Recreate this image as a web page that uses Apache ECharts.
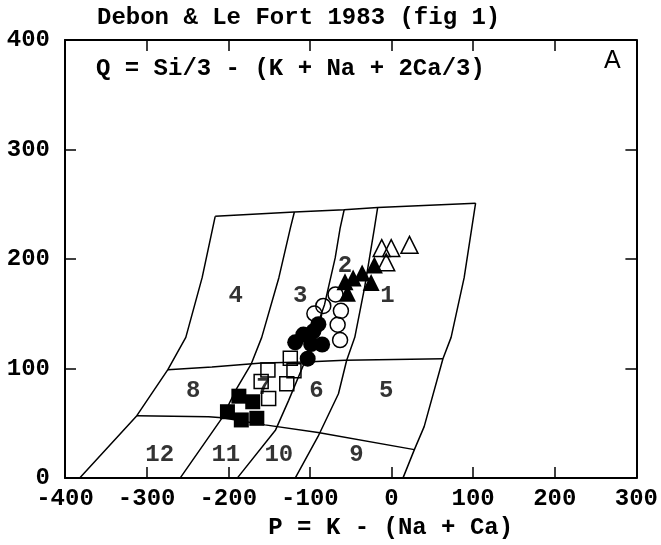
<!DOCTYPE html>
<html>
<head>
<meta charset="utf-8">
<script src="https://cdn.jsdelivr.net/npm/echarts@6/dist/echarts.min.js"></script>
<style>
  html, body { margin: 0; padding: 0; background: #fff; }
  #chart { width: 661px; height: 545px; }
</style>
</head>
<body>
<div id="chart"></div>
<script>
// P-Q diagram, Debon & Le Fort 1983
const xTicks = [-400, 300, 100];
const yTicks = [0, 400, 100];

// field boundaries, [P, Q]
const topEdge = [[-216, 239], [-119, 243], [-58, 245], [-17, 247], [103, 251]];
const leftEdge = [[-216, 239], [-232, 183], [-252, 128.5], [-274, 99], [-312, 57], [-382, 0]];
const rightEdge = [[103, 251], [89, 183], [73, 128.5], [63, 109], [40, 47], [28, 26], [14, 0]];
const div43 = [[-119, 243], [-124, 228], [-138, 183], [-159, 128.5], [-172, 104], [-191, 80], [-207.5, 55], [-259, 0]];
const div32 = [[-58, 245], [-63, 228], [-69, 201], [-82, 158.6], [-96, 128.5], [-108, 103], [-126, 71], [-142, 44], [-189, 0]];
const div21 = [[-17, 247], [-21, 228], [-33, 174], [-45, 128.5], [-55, 107.4], [-65, 77], [-90, 38], [-118, 0]];
const midEdge = [[-274, 99], [-220, 101.5], [-159, 105], [-106, 106], [-57, 107.5], [63, 109]];
const lowEdge = [[-312, 57], [-224, 56], [-207.5, 55], [-155, 48.6], [-90, 41.6], [28, 26]];

const fieldNames = ['1', '2', '3', '4', '5', '6', '7', '8', '9', '10', '11', '12'];
const fieldPos = [[-5, 166], [-57, 194], [-112, 166], [-191, 166], [-6.5, 80], [-92, 80], [-157, 82], [-243, 80],
  [-43, 21], [-138, 21], [-203, 21], [-284, 21]];

// samples
const openTriangles = [[-12, 210], [-0.4, 210], [22, 213], [-6.5, 197]];
const filledTriangles = [[-21, 194.6], [-36, 187.3], [-47, 182.8], [-57, 179.2], [-25, 178.7], [-54, 168.8]];
const openCircles = [[-68.6, 167.7], [-83.6, 157.2], [-94.5, 150.2], [-62, 152.7], [-66, 140], [-63, 126]];
const filledCircles = [[-89.6, 140.5], [-108, 131], [-118, 124], [-98.5, 122.4], [-85, 122], [-102.7, 109], [-95.7, 134]];
const openSquares = [[-124, 109.5], [-151.4, 98.6], [-119.5, 98], [-159.7, 88.1], [-128.3, 86.2], [-150.5, 72.7]];
const filledSquares = [[-187, 74.8], [-170, 69.7], [-201, 60.6], [-184, 53.1], [-165, 54.6]];

const mono = 'Liberation Mono';
const black = '#000';

function axis(extra, ticks, showLabel) {
  return Object.assign({
    type: 'value', min: ticks[0], max: ticks[1], interval: ticks[2],
    splitLine: { show: false },
    axisLine: { show: true, onZero: false, lineStyle: { color: black, width: 2 } },
    axisTick: { show: true, inside: true, length: 11, lineStyle: { color: black, width: 1.5 } },
    axisLabel: { show: showLabel, color: black, fontFamily: mono, fontWeight: 'bold', fontSize: 24 },
  }, extra);
}

function boundary(data) {
  return { type: 'line', data, symbol: 'none', silent: true, z: 2,
    lineStyle: { color: black, width: 1.5 } };
}

function samples(data, symbol, size, filled) {
  return { type: 'scatter', data, symbol, symbolSize: size, z: 5,
    itemStyle: filled ? { color: black, opacity: 1 }
      : { color: 'rgba(0,0,0,0)', borderColor: black, borderWidth: 1.5, opacity: 1 } };
}

const chart = echarts.init(document.getElementById('chart'));
chart.setOption({
  animation: false,
  title: {
    text: 'Debon & Le Fort 1983 (fig 1)', left: 92, top: 1,
    textStyle: { color: black, fontFamily: mono, fontWeight: 'bold', fontSize: 24 },
  },
  grid: { left: 65, right: 21, top: 40, bottom: 63 },
  xAxis: [
    axis({ position: 'bottom', name: 'P = K - (Na + Ca)', nameLocation: 'middle', nameGap: 29,
      nameTextStyle: { color: black, fontFamily: mono, fontWeight: 'bold', fontSize: 24, padding: [0, 0, 0, 80] },
      axisLabel: { color: black, fontFamily: mono, fontWeight: 'bold', fontSize: 24, margin: 9 } }, xTicks, true),
    axis({ position: 'top' }, xTicks, false),
  ],
  yAxis: [
    axis({ position: 'left',
      axisLabel: { color: black, fontFamily: mono, fontWeight: 'bold', fontSize: 24, margin: 15 } }, yTicks, true),
    axis({ position: 'right' }, yTicks, false),
  ],
  graphic: [
    { type: 'text', left: 96, top: 57, style: { text: 'Q = Si/3 - (K + Na + 2Ca/3)', fill: black,
      font: 'bold 24px "Liberation Mono"' } },
    { type: 'text', left: 604, top: 49, style: { text: 'A', fill: black, font: '25px "Liberation Sans"' } },
  ],
  series: [
    boundary(topEdge), boundary(leftEdge), boundary(rightEdge),
    boundary(div43), boundary(div32), boundary(div21),
    boundary(midEdge), boundary(lowEdge),
    {
      type: 'scatter', symbolSize: 0, silent: true, z: 3,
      data: fieldPos.map((p, i) => [p[0], p[1], fieldNames[i]]),
      label: { show: true, position: 'inside', formatter: p => p.value[2], color: black,
        fontFamily: mono, fontWeight: 'bold', fontSize: 24 },
    },
    samples(openTriangles, 'triangle', 17, false),
    samples(filledTriangles, 'triangle', 17, true),
    samples(openCircles, 'circle', 15, false),
    samples(filledCircles, 'circle', 16, true),
    samples(openSquares, 'rect', 14, false),
    samples(filledSquares, 'rect', 15, true),
  ],
});
</script>
</body>
</html>
